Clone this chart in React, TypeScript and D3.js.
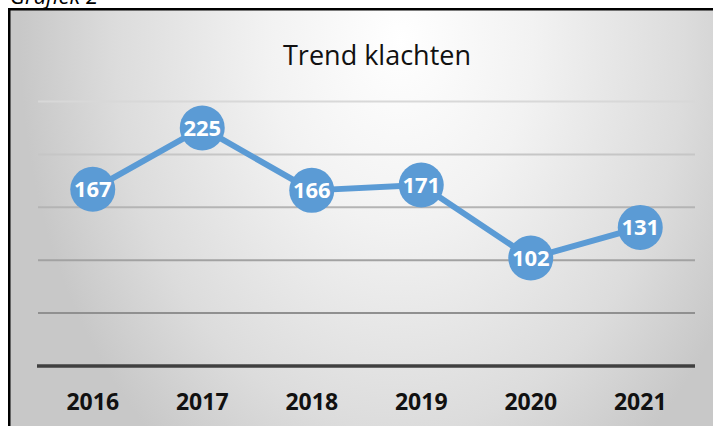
import React from "react";
import * as d3 from "d3";

const years = ["2016", "2017", "2018", "2019", "2020", "2021"];
const complaints = [167, 225, 166, 171, 102, 131];
const yTicks = [0, 50, 100, 150, 200, 250];
const gridColors = ["#909090", "#a2a2a2", "#b4b4b4", "#c6c6c6", "#d8d8d8"];
const title = "Trend klachten";
const caption = "Grafiek 2";

export default function App() {
  const W = 713;
  const H = 426;
  const x = d3.scaleBand<string>().domain(years).range([38, 695]);
  const y = d3.scaleLinear().domain([0, 250]).range([366, 101.5]);
  const cx = (d: string) => (x(d) as number) + x.bandwidth() / 2;
  const line = d3
    .line<number>()
    .x((_, i) => cx(years[i]))
    .y((v) => y(v));
  const font = "'Open Sans', 'Noto Sans', sans-serif";
  return (
    <div style={{ position: "fixed", left: 0, top: 0 }}>
      <svg width={W} height={H} style={{ display: "block" }}>
        <defs>
          <radialGradient
            id="bg"
            gradientUnits="userSpaceOnUse"
            cx={400}
            cy={40}
            r={380}
            gradientTransform="translate(400 40) scale(1 1.37) translate(-400 -40)"
          >
            <stop offset="0" stopColor="#ffffff" />
            <stop offset="0.35" stopColor="#f2f2f2" />
            <stop offset="0.75" stopColor="#dcdcdc" />
            <stop offset="1" stopColor="#c8c8c8" />
          </radialGradient>
        </defs>
        <rect x={0} y={0} width={W} height={H} fill="#ffffff" />
        <text
          x={10}
          y={3.5}
          fontFamily={font}
          fontStyle="italic"
          fontSize={22}
          fill="#000"
        >
          {caption}
        </text>
        <rect
          x={9.25}
          y={9.25}
          width={W + 20}
          height={H + 20}
          fill="url(#bg)"
          stroke="#000"
          strokeWidth={2.5}
        />
        <text
          x={377}
          y={65}
          textAnchor="middle"
          fontFamily={font}
          fontSize={27}
          fill="#111"
        >
          {title}
        </text>
        {yTicks.slice(1).map((t, i) => (
          <line
            key={t}
            x1={38}
            x2={695}
            y1={y(t)}
            y2={y(t)}
            stroke={gridColors[i]}
            strokeWidth={2}
          />
        ))}
        <line
          x1={37}
          x2={695}
          y1={y(0)}
          y2={y(0)}
          stroke="#404040"
          strokeWidth={3.5}
        />
        {years.map((yr) => (
          <text
            key={yr}
            x={cx(yr)}
            y={409.5}
            textAnchor="middle"
            fontFamily={font}
            fontWeight="bold"
            fontSize={23}
            fill="#111"
          >
            {yr}
          </text>
        ))}
        <path
          d={line(complaints) || ""}
          fill="none"
          stroke="#5B9BD5"
          strokeWidth={6}
          strokeLinejoin="round"
        />
        {complaints.map((v, i) => (
          <g key={years[i]}>
            <circle cx={cx(years[i])} cy={y(v)} r={22.5} fill="#5B9BD5" />
            <text
              x={cx(years[i])}
              y={y(v) + 8}
              textAnchor="middle"
              fontFamily={font}
              fontWeight="bold"
              fontSize={22}
              fill="#ffffff"
            >
              {v}
            </text>
          </g>
        ))}
      </svg>
    </div>
  );
}
